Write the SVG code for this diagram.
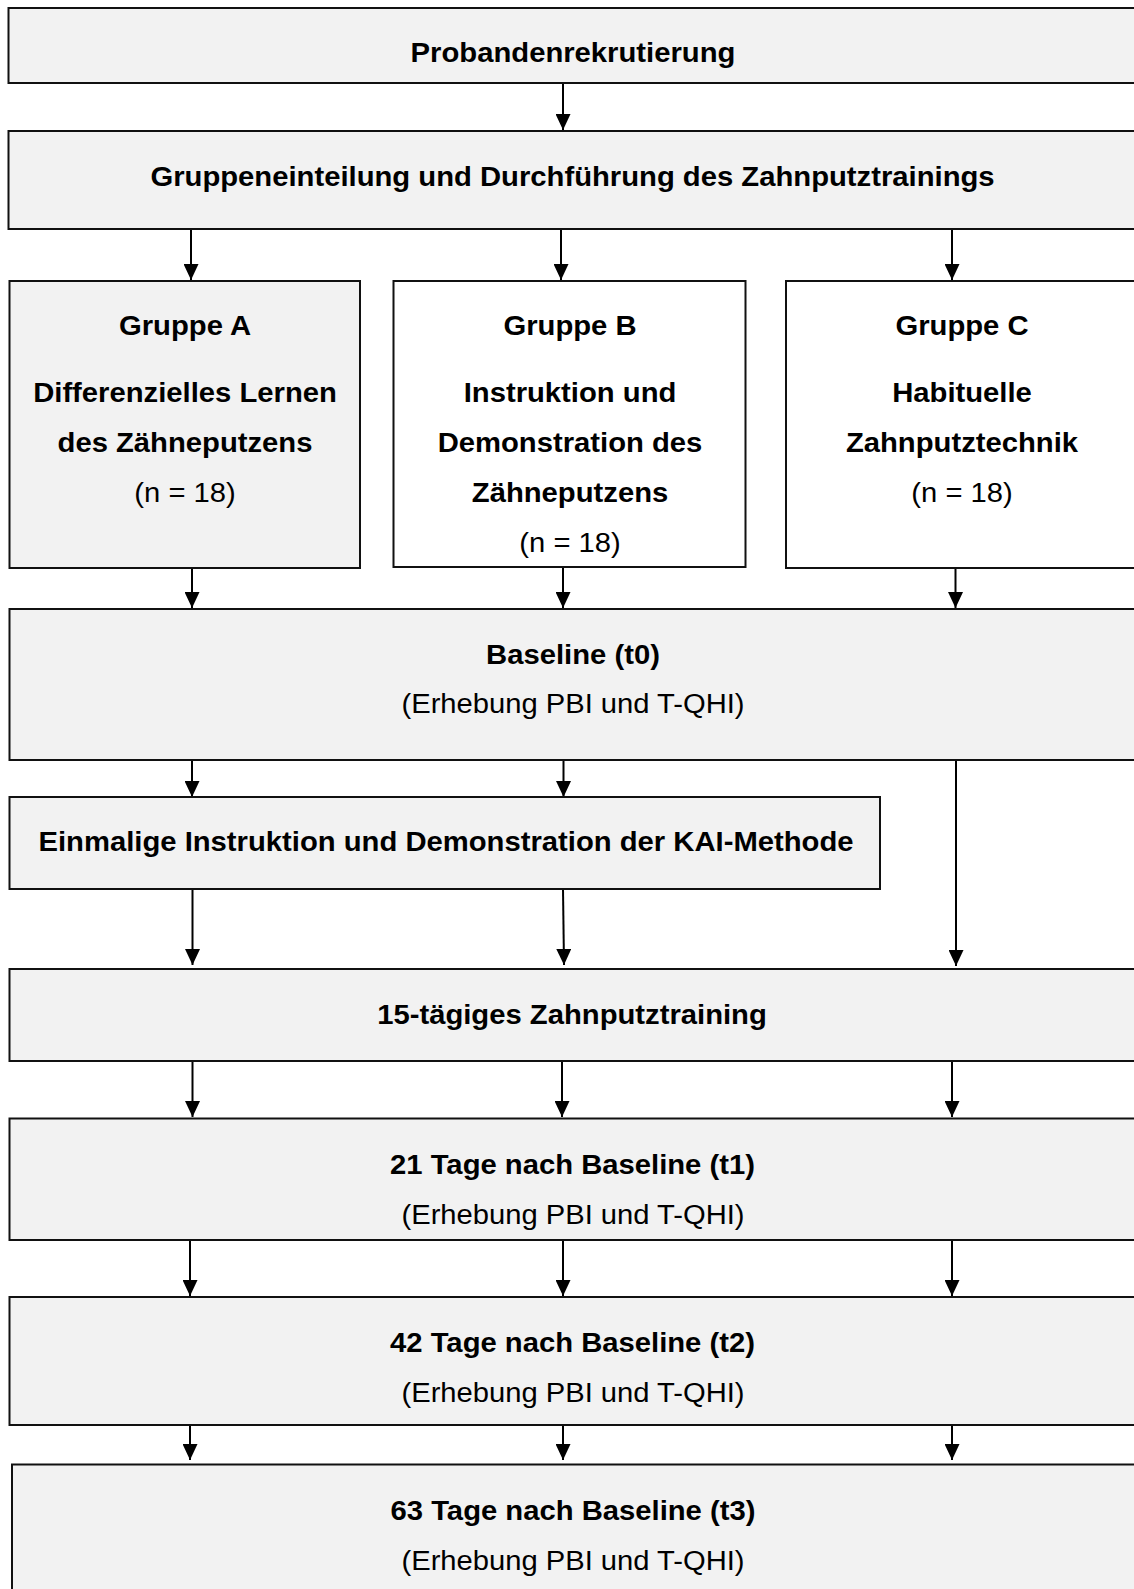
<svg xmlns="http://www.w3.org/2000/svg" width="1134" height="1589" viewBox="0 0 1134 1589">
<defs>
<style>
.box{fill:#f2f2f2;stroke:#111;stroke-width:2}
.wbox{fill:#ffffff;stroke:#111;stroke-width:2}
.b{font-family:"Liberation Sans",Arial,sans-serif;font-weight:bold;font-size:27px;text-anchor:middle;fill:#000}
.r{font-family:"Liberation Sans",Arial,sans-serif;font-weight:normal;font-size:27px;text-anchor:middle;fill:#000}
.c{stroke:#000;stroke-width:2;fill:none;marker-end:url(#ah)}
</style>
<marker id="ah" markerUnits="userSpaceOnUse" markerWidth="16" markerHeight="15" refX="16" refY="7.5" orient="auto">
<path d="M0,0 L16,7.5 L0,15 z" fill="#000"/>
</marker>
</defs>
<rect width="1134" height="1589" fill="#fff"/>

<g id="connectors">
<line class="c" x1="563" y1="83" x2="563" y2="130"/>
<line class="c" x1="191" y1="229" x2="191" y2="280"/>
<line class="c" x1="561" y1="229" x2="561" y2="280"/>
<line class="c" x1="952" y1="229" x2="952" y2="280"/>
<line class="c" x1="192" y1="568" x2="192" y2="608"/>
<line class="c" x1="563" y1="567" x2="563" y2="608"/>
<line class="c" x1="955.5" y1="569" x2="955.5" y2="608"/>
<line class="c" x1="192" y1="760" x2="192" y2="797"/>
<line class="c" x1="563.5" y1="760" x2="563.5" y2="797"/>
<line class="c" x1="956" y1="760" x2="956" y2="966"/>
<line class="c" x1="192.5" y1="889" x2="192.5" y2="965"/>
<line class="c" x1="563" y1="889" x2="564" y2="965"/>
<line class="c" x1="192.5" y1="1061" x2="192.5" y2="1117"/>
<line class="c" x1="562" y1="1061" x2="562" y2="1117"/>
<line class="c" x1="952" y1="1061" x2="952" y2="1117"/>
<line class="c" x1="190" y1="1240" x2="190" y2="1296"/>
<line class="c" x1="563" y1="1240" x2="563" y2="1296"/>
<line class="c" x1="952" y1="1240" x2="952" y2="1296"/>
<line class="c" x1="190" y1="1425" x2="190" y2="1460"/>
<line class="c" x1="563" y1="1425" x2="563" y2="1460"/>
<line class="c" x1="952" y1="1425" x2="952" y2="1460"/>
</g>

<g id="n1">
<rect class="box" x="8.5" y="8" width="1135" height="75"/>
<text class="b" transform="translate(573 62) scale(1.083 1)">Probandenrekrutierung</text>
</g>

<g id="n2">
<rect class="box" x="8.5" y="131" width="1135" height="98"/>
<text class="b" transform="translate(572.5 186) scale(1.083 1)">Gruppeneinteilung und Durchführung des Zahnputztrainings</text>
</g>

<g id="gA">
<rect class="box" x="9.5" y="281" width="350.5" height="287"/>
<text class="b" transform="translate(185 335) scale(1.083 1)">Gruppe A</text>
<text class="b" transform="translate(185 402) scale(1.083 1)">Differenzielles Lernen</text>
<text class="b" transform="translate(185 452) scale(1.083 1)">des Zähneputzens</text>
<text class="r" transform="translate(185 502) scale(1.08 1)">(n = 18)</text>
</g>

<g id="gB">
<rect class="wbox" x="393.5" y="281" width="352" height="286"/>
<text class="b" transform="translate(570 334.5) scale(1.083 1)">Gruppe B</text>
<text class="b" transform="translate(570 401.5) scale(1.083 1)">Instruktion und</text>
<text class="b" transform="translate(570 451.5) scale(1.083 1)">Demonstration des</text>
<text class="b" transform="translate(570 501.5) scale(1.083 1)">Zähneputzens</text>
<text class="r" transform="translate(570 552) scale(1.08 1)">(n = 18)</text>
</g>

<g id="gC">
<rect class="wbox" x="786" y="281" width="360" height="287"/>
<text class="b" transform="translate(962 335) scale(1.083 1)">Gruppe C</text>
<text class="b" transform="translate(962 402) scale(1.083 1)">Habituelle</text>
<text class="b" transform="translate(962 452) scale(1.083 1)">Zahnputztechnik</text>
<text class="r" transform="translate(962 502) scale(1.08 1)">(n = 18)</text>
</g>

<g id="t0">
<rect class="box" x="9.5" y="609" width="1135" height="151"/>
<text class="b" transform="translate(573 663.5) scale(1.083 1)">Baseline (t0)</text>
<text class="r" transform="translate(573 713) scale(1.08 1)">(Erhebung PBI und T-QHI)</text>
</g>

<g id="kai">
<rect class="box" x="9.5" y="797" width="870.5" height="92"/>
<text class="b" transform="translate(446 851) scale(1.083 1)">Einmalige Instruktion und Demonstration der KAI-Methode</text>
</g>

<g id="training">
<rect class="box" x="9.5" y="969" width="1135" height="92"/>
<text class="b" transform="translate(572 1024) scale(1.083 1)">15-tägiges Zahnputztraining</text>
</g>

<g id="t1">
<rect class="box" x="9.5" y="1118.5" width="1135" height="121.5"/>
<text class="b" transform="translate(572.5 1173.5) scale(1.083 1)">21 Tage nach Baseline (t1)</text>
<text class="r" transform="translate(573 1223.5) scale(1.08 1)">(Erhebung PBI und T-QHI)</text>
</g>

<g id="t2">
<rect class="box" x="9.5" y="1297" width="1135" height="128"/>
<text class="b" transform="translate(572.5 1352) scale(1.083 1)">42 Tage nach Baseline (t2)</text>
<text class="r" transform="translate(573 1402) scale(1.08 1)">(Erhebung PBI und T-QHI)</text>
</g>

<g id="t3">
<rect class="box" x="12" y="1464.5" width="1135" height="140"/>
<text class="b" transform="translate(573 1520) scale(1.083 1)">63 Tage nach Baseline (t3)</text>
<text class="r" transform="translate(573 1570) scale(1.08 1)">(Erhebung PBI und T-QHI)</text>
</g>
</svg>
